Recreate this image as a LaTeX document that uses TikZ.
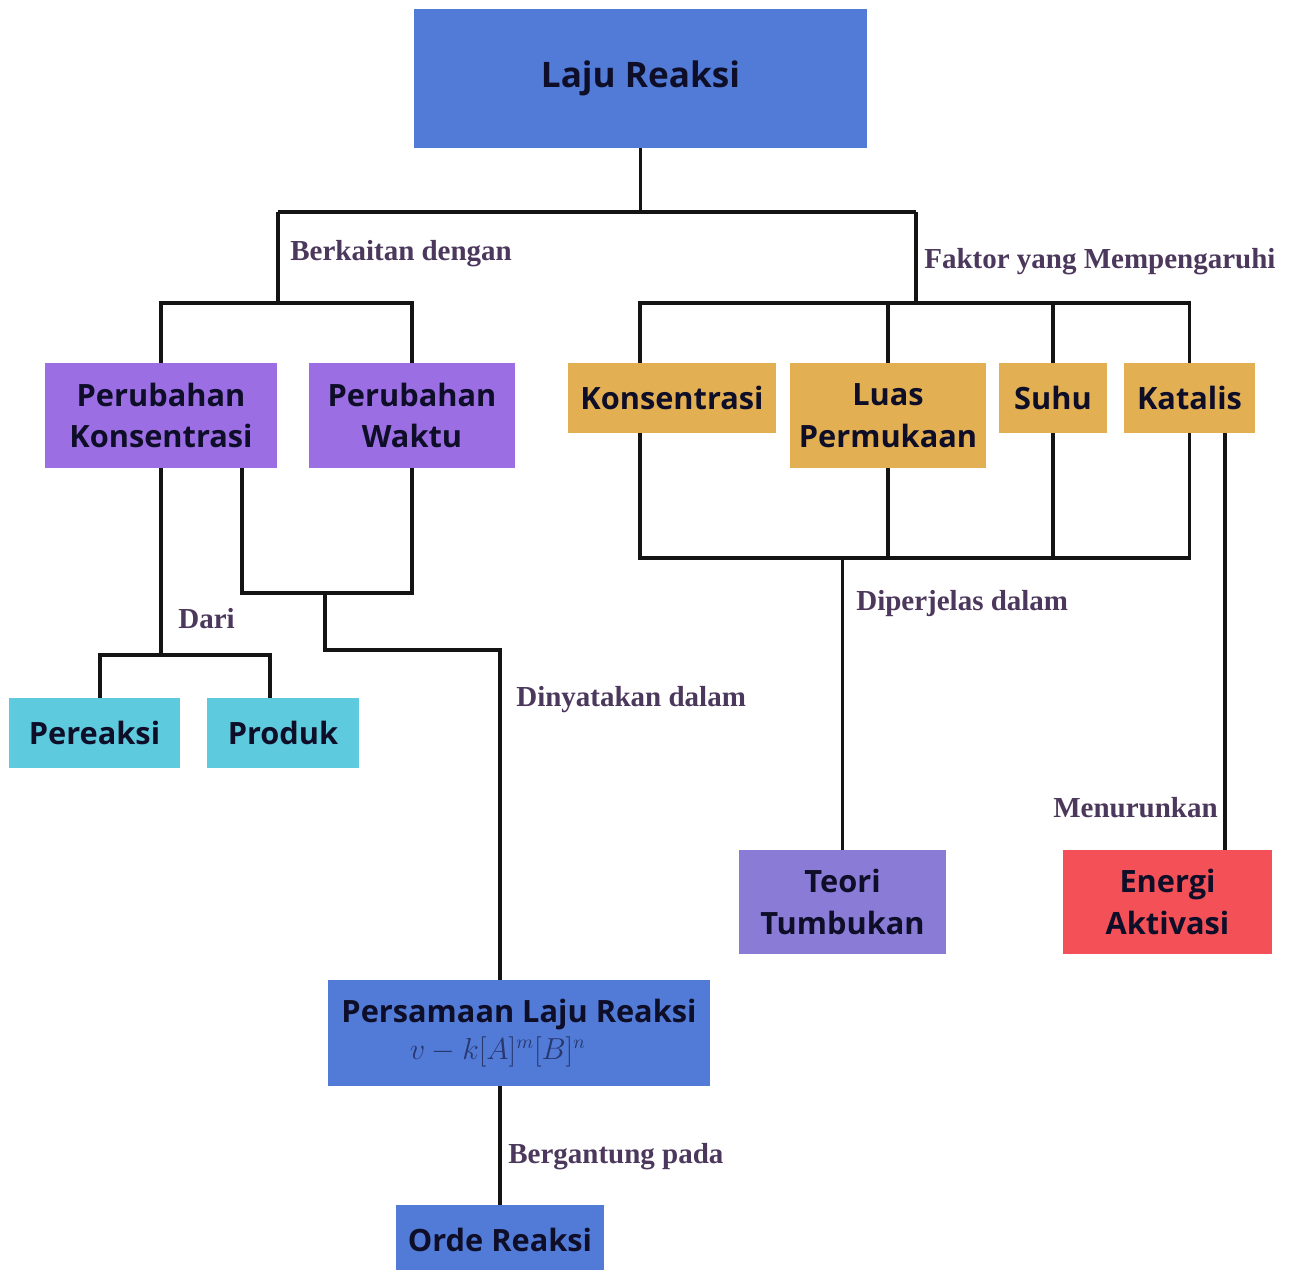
\documentclass[tikz,border=0pt]{standalone}
\usepackage{fontspec}
\newfontfamily\boxfont{Open Sans}
\newfontfamily\linkfont{Liberation Serif}
\usetikzlibrary{calc}
\definecolor{cBlue}  {RGB}{ 82,123,215}
\definecolor{cPurp}  {RGB}{156,110,228}
\definecolor{cGold}  {RGB}{227,175, 83}
\definecolor{cCyan}  {RGB}{ 93,202,222}
\definecolor{cLav}   {RGB}{138,123,215}
\definecolor{cRed}   {RGB}{244, 80, 88}
\definecolor{cInk}   {RGB}{ 14, 14, 40}
\definecolor{cVerb}  {RGB}{ 76, 56, 92}
\definecolor{cEq}    {RGB}{ 40, 55,110}
\tikzset{
  concept/.style = {rectangle, inner sep=0pt, align=center, text=cInk,
                    font=\boxfont\bfseries\fontsize{17.5}{23.8}\selectfont},
  topic/.style   = {concept, fill=cBlue},
  change/.style  = {concept, fill=cPurp},
  factor/.style  = {concept, fill=cGold},
  species/.style = {concept, fill=cCyan},
  theory/.style  = {concept, fill=cLav},
  energy/.style  = {concept, fill=cRed},
  link/.style    = {line width=2.2pt, black!92},
  verb/.style    = {font=\linkfont\bfseries\fontsize{16.5}{19}\selectfont,
                    text=cVerb, inner sep=0pt, anchor=west},
}

\begin{document}
\begin{tikzpicture}[x=0.02cm, y=-0.02cm]
  \fill[white] (0,0) rectangle (1291,1270);
  \useasboundingbox (0,0) rectangle (1291,1270);

  % ---- top concept --------------------------------------------------
  \node[topic, minimum width=9.06cm, minimum height=2.78cm,
        font=\boxfont\bfseries\fontsize{20}{24}\selectfont]
        (laju) at (640.5,78.5) {Laju Reaksi};

  % ---- second row ---------------------------------------------------
  \node[change, minimum width=4.64cm, minimum height=2.1cm] (pk) at (161,415.5)
        {Perubahan\\Konsentrasi};
  \node[change, minimum width=4.14cm, minimum height=2.1cm] (pw) at (412,415.5)
        {Perubahan\\Waktu};
  \node[factor, minimum width=4.16cm, minimum height=1.4cm] (kons) at (672,398)
        {Konsentrasi};
  \node[factor, minimum width=3.92cm, minimum height=2.1cm] (luas) at (888,415.5)
        {Luas\\Permukaan};
  \node[factor, minimum width=2.16cm, minimum height=1.4cm] (suhu) at (1053,398)
        {Suhu};
  \node[factor, minimum width=2.62cm, minimum height=1.4cm] (kat) at (1189.5,398)
        {Katalis};

  % ---- lower concepts -----------------------------------------------
  \node[species, minimum width=3.42cm, minimum height=1.4cm] (pereaksi) at (94.5,733)
        {Pereaksi};
  \node[species, minimum width=3.04cm, minimum height=1.4cm] (produk) at (283,733)
        {Produk};
  \node[theory, minimum width=4.14cm, minimum height=2.08cm] (teori) at (842.5,902)
        {Teori\\Tumbukan};
  \node[energy, minimum width=4.18cm, minimum height=2.08cm] (energi) at (1167.5,902)
        {Energi\\Aktivasi};
  \node[topic, minimum width=7.64cm, minimum height=2.12cm] (pers) at (519,1033)
        {Persamaan Laju Reaksi\\[-3pt]
         \mbox{\color{cEq}\fontsize{16}{18}\selectfont$v-k[A]^m[B]^n$\kern0.85cm}};
  \node[topic, minimum width=4.16cm, minimum height=1.4cm] (orde) at (500,1240)
        {Orde Reaksi};

  % ---- branching from the top -----------------------------------------
  \coordinate (hubL) at (278,212);
  \coordinate (hubR) at (916,212);
  \coordinate (busL) at (278,303);
  \coordinate (busR) at (916,303);
  \draw[link] (laju.south) -- (laju.south |- hubL);
  \draw[link] (hubL) -- (hubR);
  \draw[link] (hubL) -- (busL);
  \draw[link] (hubR) -- (busR);
  \draw[link] (pk.north) |- (busL) -| (pw.north);

  \coordinate (konsL) at (640,303);
  \draw[link] (kons.north -| konsL) -- (konsL) -- (kat.north |- konsL) -- (kat.north);
  \foreach \n in {luas, suhu}
    \draw[link] (\n.north) -- (\n.north |- busR);

  % ---- factors joined below -------------------------------------------
  \coordinate (baseL) at (640,558);
  \draw[link] (kons.south -| baseL) -- (baseL) -- (kat.south |- baseL) -- (kat.south);
  \foreach \n in {luas, suhu}
    \draw[link] (\n.south) -- (\n.south |- baseL);
  \draw[link] (teori.north |- baseL) -- (teori.north);
  \coordinate (katx) at (1225,0);
  \draw[link] (kat.south -| katx) -- (energi.north -| katx);

  % ---- left branch ------------------------------------------------------
  \coordinate (spL) at (100,655);
  \coordinate (spR) at (270,655);
  \draw[link] (pk.south) -- (pk.south |- spL);
  \draw[link] (pereaksi.north -| spL) -- (spL) -- (spR) -- (produk.north -| spR);

  \coordinate (tw)  at (242,593);
  \coordinate (tw2) at (325,593);
  \coordinate (eqx) at (500,650);
  \draw[link] (pk.south -| tw) -- (tw) -- (pw.south |- tw) -- (pw.south);
  \draw[link] (tw2) |- (eqx) -- (pers.north -| eqx);
  \draw[link] (pers.south -| orde.north) -- (orde.north);

  % ---- link words -------------------------------------------------------
  \node[verb] (vBerkait) at (290,254)  {Berkaitan dengan};
  \node[verb] (vFaktor)  at (924,262)  {Faktor yang Mempengaruhi};
  \node[verb] (vDari)    at (178,619)  {Dari};
  \node[verb] (vJelas)   at (856,604)  {Diperjelas dalam};
  \node[verb] (vNyata)   at (516,700)  {Dinyatakan dalam};
  \node[verb] (vTurun)   at (1053,808) {Menurunkan};
  \node[verb] (vGantung) at (508,1157) {Bergantung pada};

\end{tikzpicture}
\end{document}
